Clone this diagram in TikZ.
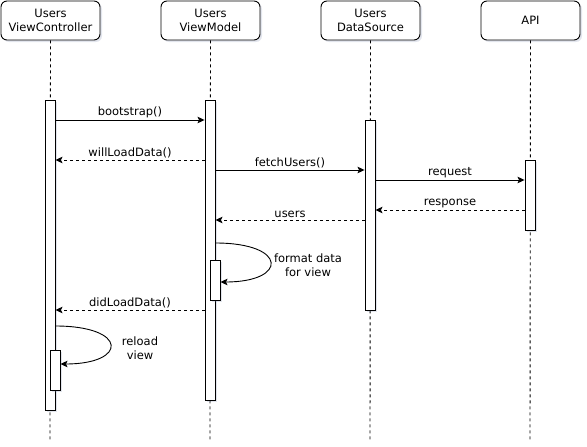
\documentclass[tikz,border=0pt]{standalone}
\usepackage{fontspec}
\setmainfont{DejaVu Sans}
\usetikzlibrary{arrows.meta,calc,positioning,shadows}
\definecolor{seqshadow}{RGB}{140,150,185}
\tikzset{
  softshadow/.style={drop shadow={shadow xshift=2pt,shadow yshift=-2pt,opacity=.25,fill=seqshadow}},
  actor/.style={draw,rounded corners=6pt,fill=white,minimum width=99pt,minimum height=39pt,
    align=center,inner sep=0pt,softshadow},
  lifeline/.style={dash pattern=on 3pt off 3pt},
  bar/.style={draw,fill=white,minimum width=10pt,inner sep=0pt,softshadow},
  call/.style={-{Stealth[length=7pt,width=6.5pt,inset=1.5pt]}},
  reply/.style={call,dash pattern=on 3pt off 3pt},
}
\newcommand{\activation}[4]{%
  \node[bar,minimum height={(#4-#3)*1pt}] (#1) at (#2,{(#3+#4)/2}) {};
}
\newcommand{\msg}[5]{%
  \draw[#1] (#2 |- 0,#4) -- node[above,inner sep=1.5pt]{#5} (#3 |- 0,#4);
}

\begin{document}
\begin{tikzpicture}[x=1pt,y=-1pt,line width=.9pt,font=\fontsize{11.5}{13.5}\selectfont]
    \useasboundingbox (0,0) rectangle (587,447);
    \foreach \name/\x/\txt in {vc/50.5/{Users\\ViewController},vm/210.5/{Users\\ViewModel},
        ds/370.5/{Users\\DataSource},api/530.5/{API}}{
      \node[actor] (\name) at (\x,20.5) {\txt};
      \coordinate (\name end) at (\x-.5,440);
      \draw[lifeline] (\name.south) -- (\name end);
    }
    \activation{vcbar}{50}{100}{410}
    \activation{vmbar}{210}{100}{400}
    \activation{dsbar}{370}{120}{310}
    \activation{apibar}{530}{160}{230}
    \activation{vmsub}{215}{260}{300}
    \activation{vcsub}{55}{350}{390}
    \msg{call}{vcbar.east}{vmbar.west}{120}{bootstrap()}
    \msg{reply}{vmbar.west}{vcbar.east}{160}{willLoadData()}
    \msg{call}{vmbar.east}{dsbar.west}{170}{fetchUsers()}
    \msg{call}{dsbar.east}{apibar.west}{180}{request}
    \msg{reply}{apibar.west}{dsbar.east}{210}{response}
    \msg{reply}{dsbar.west}{vmbar.east}{220}{users}
    \draw[call] (vmbar.east |- 0,243) .. controls (288,243) and (288,282) .. (vmsub.east |- 0,282);
    \node[align=center] (fmt) at (308,265) {format data\\for view};
    \msg{reply}{vmbar.west}{vcbar.east}{310}{didLoadData()}
    \draw[call] (vcbar.east |- 0,326) .. controls (128,326) and (128,364) .. (vcsub.east |- 0,364);
    \node[align=center] (reload) at (140,348) {reload\\view};
  \end{tikzpicture}
\end{document}
